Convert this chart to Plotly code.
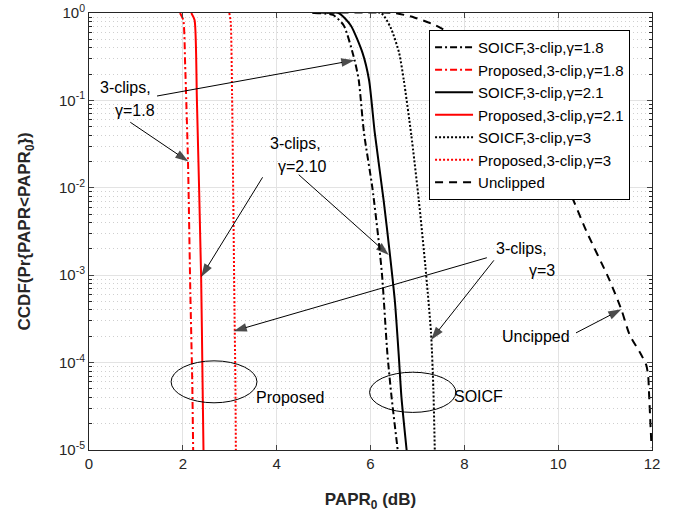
import plotly.graph_objects as go

# ---- data (PAPR0 in dB, CCDF values) ----
papr_prop_18 = [1.94, 2.01, 2.05, 2.11, 2.16, 2.20, 2.22]
ccdf_prop_18 = [1.0, 0.83, 0.25, 0.02, 6.3e-4, 6.3e-5, 1e-5]

papr_prop_21 = [2.18, 2.25, 2.30, 2.39, 2.42, 2.44]
ccdf_prop_21 = [1.0, 0.83, 0.1, 9.5e-4, 6.3e-5, 1e-5]

papr_prop_3 = [2.99, 3.02, 3.05, 3.10, 3.12, 3.13]
ccdf_prop_3 = [1.0, 0.8, 0.11, 4.5e-4, 6.3e-5, 1e-5]

papr_soicf_18 = [4.8, 5.2, 5.43, 5.66, 5.75, 5.86, 6.04, 6.18, 6.25, 6.36, 6.45, 6.58]
ccdf_soicf_18 = [1.0, 0.95, 0.72, 0.29, 0.17, 0.043, 0.010, 2.3e-3, 9.5e-4, 1.26e-4, 4e-5, 1e-5]

papr_soicf_21 = [4.8, 5.32, 5.58, 5.83, 5.97, 6.09, 6.28, 6.41, 6.52, 6.60, 6.66, 6.77]
ccdf_soicf_21 = [1.0, 1.0, 0.72, 0.35, 0.17, 0.043, 7.2e-3, 1.8e-3, 5e-4, 1.26e-4, 4e-5, 1e-5]

papr_soicf_3 = [4.8, 6.22, 6.43, 6.61, 6.71, 6.87, 7.03, 7.17, 7.29, 7.34, 7.37]
ccdf_soicf_3 = [1.0, 1.0, 0.68, 0.35, 0.17, 0.04, 7.2e-3, 1.26e-3, 2.2e-4, 5e-5, 1e-5]

papr_unclipped = [4.76, 6.5, 6.93, 7.39, 8.0, 8.5, 9.0, 9.5, 10.17, 10.6, 11.09, 11.35,
                  11.52, 11.77, 11.88, 11.92, 11.94, 11.99]
ccdf_unclipped = [1.0, 1.0, 0.89, 0.72, 0.47, 0.28, 0.14, 0.056, 0.0112, 3.2e-3, 8.9e-4,
                  4e-4, 2.1e-4, 1.23e-4, 9.3e-5, 6.9e-5, 4.1e-5, 1.07e-5]

x_ticks = [0, 2, 4, 6, 8, 10, 12]
y_ticks = [1e-5, 1e-4, 1e-3, 1e-2, 1e-1, 1]
y_tick_text = ["10<sup>-5</sup>", "10<sup>-4</sup>", "10<sup>-3</sup>",
               "10<sup>-2</sup>", "10<sup>-1</sup>", "10<sup>0</sup>"]

RED = "#ff0000"
BLK = "#000000"
DASHDOT = "7px,3px,2px,3px"
DOT = "2px,2px"
DASH = "8px,6px"

series = [
    ("SOICF,3-clip,γ=1.8", papr_soicf_18, ccdf_soicf_18, BLK, DASHDOT),
    ("Proposed,3-clip,γ=1.8", papr_prop_18, ccdf_prop_18, RED, DASHDOT),
    ("SOICF,3-clip,γ=2.1", papr_soicf_21, ccdf_soicf_21, BLK, "solid"),
    ("Proposed,3-clip,γ=2.1", papr_prop_21, ccdf_prop_21, RED, "solid"),
    ("SOICF,3-clip,γ=3", papr_soicf_3, ccdf_soicf_3, BLK, DOT),
    ("Proposed,3-clip,γ=3", papr_prop_3, ccdf_prop_3, RED, DOT),
    ("Unclipped", papr_unclipped, ccdf_unclipped, BLK, DASH),
]

fig = go.Figure()
for name, xs, ys, col, dash in series:
    fig.add_trace(go.Scatter(
        x=xs, y=ys, mode="lines", name=name,
        line=dict(color=col, width=2, dash=dash, shape="spline", smoothing=0.6),
    ))

# annotation arrows: (tail x, tail log10 y, head x, head log10 y)
arrows = [
    (1.45, -0.95, 5.66, -0.54),
    (0.88, -1.25, 2.12, -1.70),
    (3.70, -1.88, 2.39, -3.02),
    (4.47, -1.85, 6.39, -2.77),
    (8.48, -2.80, 3.08, -3.64),
    (8.63, -2.83, 7.29, -3.74),
    (10.38, -3.66, 11.35, -3.39),
]
for tx, ty, hx, hy in arrows:
    fig.add_trace(go.Scatter(
        x=[tx, hx], y=[10 ** ty, 10 ** hy], mode="lines+markers",
        line=dict(color=BLK, width=1),
        marker=dict(symbol=["circle", "arrow"], size=[0, 14], color=BLK,
                    angleref="previous", line=dict(width=0)),
        showlegend=False, hoverinfo="skip",
    ))

FONT = "Liberation Sans, Arial, sans-serif"
AX = "#262626"

minor_vals = [m * 10 ** e for e in range(-5, 0) for m in range(2, 10)]

fig.update_layout(
    width=683, height=513,
    margin=dict(l=89, r=31, t=13, b=63),
    paper_bgcolor="white", plot_bgcolor="white",
    font=dict(family=FONT, size=15, color=AX),
    showlegend=True,
    legend=dict(
        x=0.604, y=0.961, xanchor="left", yanchor="top",
        bgcolor="white", bordercolor=BLK, borderwidth=1,
        font=dict(family=FONT, size=15, color="#000000"),
        itemwidth=38, tracegroupgap=0,
    ),
    xaxis=dict(
        range=[0, 12], tickvals=x_ticks, ticks="inside", ticklen=5, automargin=False,
        showline=True, linecolor=AX, linewidth=1, mirror="allticks",
        showgrid=True, gridcolor="#e3e3e3", gridwidth=1, zeroline=False,
        tickfont=dict(size=15, color=AX),
        title=dict(text="<b>PAPR<sub>0</sub> (dB)</b>", font=dict(size=17, color=AX), standoff=22),
    ),
    yaxis=dict(
        type="log", range=[-5, 0], tickvals=y_ticks, ticktext=y_tick_text,
        ticks="inside", ticklen=5, automargin=False,
        showline=True, linecolor=AX, linewidth=1, mirror="allticks",
        showgrid=True, gridcolor="#e3e3e3", gridwidth=1, zeroline=False,
        tickfont=dict(size=15, color=AX),
        minor=dict(tickvals=minor_vals, ticks="inside", ticklen=3, tickcolor=AX,
                   showgrid=True, gridcolor="#cfcfcf", griddash="1px,3px", gridwidth=1),
    ),
)

# y-axis title placed as a rotated paper-referenced annotation
fig.add_annotation(x=-0.112, y=0.5, xref="paper", yref="paper",
                   text="<b>CCDF(Pr{PAPR&lt;PAPR<sub>0</sub>})</b>", showarrow=False,
                   textangle=-90, xanchor="center", yanchor="middle",
                   font=dict(family=FONT, size=17, color=AX))

# text labels (x in dB, y in log10 units)
ANN_FONT = dict(family=FONT, size=16, color="#000000")
labels = [
    ("3-clips,", 0.77, -0.85), ("γ=1.8", 0.98, -1.11),
    ("3-clips,", 4.40, -1.49), ("γ=2.10", 4.54, -1.76),
    ("3-clips,", 9.21, -2.69), ("γ=3", 9.66, -2.95),
    ("Uncipped", 9.53, -3.70),
    ("Proposed", 4.29, -4.40),
    ("SOICF", 8.31, -4.39),
]
for t, lx, ly in labels:
    fig.add_annotation(x=lx, y=ly, xref="x", yref="y", text=t, showarrow=False,
                       font=ANN_FONT, xanchor="center", yanchor="middle")

# ellipses
fig.add_shape(type="circle", xref="x", yref="y", x0=1.75, x1=3.58,
              y0=10 ** -4.46, y1=10 ** -3.98, line=dict(color="#000000", width=1))
fig.add_shape(type="circle", xref="x", yref="y", x0=5.98, x1=7.82,
              y0=10 ** -4.57, y1=10 ** -4.11, line=dict(color="#000000", width=1))

fig.write_html("out.html", config={"displayModeBar": False},
               post_script="document.body.style.margin='0';")
